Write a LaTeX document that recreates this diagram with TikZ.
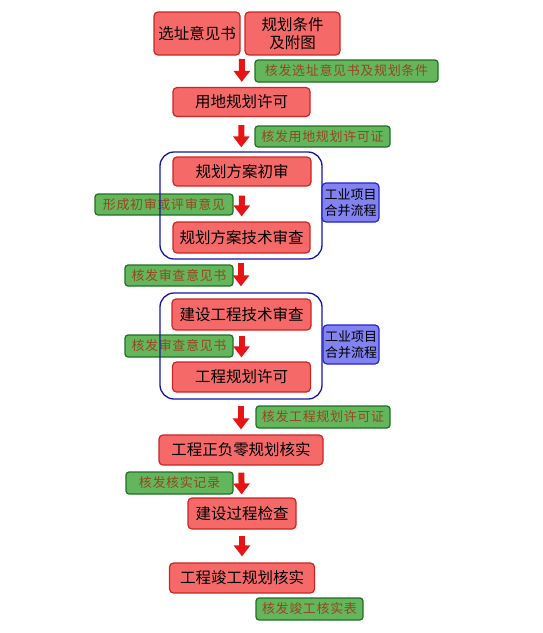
\documentclass[tikz,border=0pt]{standalone}
\usepackage{fontspec}
\usepackage{tikz}
\usetikzlibrary{arrows.meta, positioning}
\newfontfamily\cjk{Noto Sans CJK SC}
\newfontfamily\notefont[LetterSpace=5]{Noto Sans CJK SC}
\definecolor{boxred}{RGB}{245, 105, 105}
\definecolor{edgered}{RGB}{205, 35, 35}
\definecolor{boxgreen}{RGB}{100, 182, 92}
\definecolor{edgegreen}{RGB}{30, 110, 35}
\definecolor{notetext}{RGB}{150, 70, 30}
\definecolor{boxblue}{RGB}{130, 130, 240}
\definecolor{edgeblue}{RGB}{35, 35, 210}
\definecolor{groupblue}{RGB}{20, 20, 170}
\definecolor{arrowred}{RGB}{230, 20, 20}

\begin{document}
\begin{tikzpicture}[x=1pt, y=-1pt,
    redbox/.style={fill=boxred, draw=edgered, line width=1.2pt, rounded corners=4pt,
          inner sep=0pt, align=center, font=\cjk\fontsize{15.5}{18}\selectfont},
    greenbox/.style={fill=boxgreen, draw=edgegreen, line width=1.2pt, rounded corners=3pt,
          inner sep=0pt, text=notetext, font=\notefont\fontsize{13}{15}\selectfont},
    groupbox/.style={draw=groupblue, line width=1.3pt, rounded corners=14pt, inner sep=0pt},
    notebox/.style={fill=boxblue, draw=edgeblue, line width=1.2pt, rounded corners=4pt,
          inner sep=0pt, align=center, font=\cjk\fontsize{13}{16}\selectfont},
    flowarrow/.style={draw=arrowred, line width=6pt, -{Triangle[width=16pt, length=11pt]}}]
    \useasboundingbox (0,0) rectangle (543,633);

    % main steps
    \node[redbox, minimum width=86pt, minimum height=43pt] (site) at (197,33.5) {选址意见书};
    \node[redbox, minimum width=95pt, minimum height=43pt] (cond) at (292.5,33.5) {规划条件\\及附图};
    \coordinate (pair) at (242,55);
    \node[redbox, minimum width=137pt, minimum height=29pt] (landuse) at (241.5,102) {用地规划许可};
    \node[redbox, minimum width=138pt, minimum height=29pt] (prelim) at (242,171.5) {规划方案初审};
    \node[redbox, minimum width=137pt, minimum height=31pt] (techrev) at (241.5,237.5) {规划方案技术审查};
    \node[redbox, minimum width=139pt, minimum height=31pt] (consrev) at (241.5,314.5) {建设工程技术审查};
    \node[redbox, minimum width=138pt, minimum height=30pt] (permit) at (241.5,377) {工程规划许可};
    \node[redbox, minimum width=164pt, minimum height=30pt] (zero) at (241,450) {工程正负零规划核实};
    \node[redbox, minimum width=108pt, minimum height=31pt] (inspect) at (242,513.5) {建设过程检查};
    \node[redbox, minimum width=145pt, minimum height=30pt] (final) at (242,578) {工程竣工规划核实};

    % issued documents
    \node[greenbox, minimum width=183pt, minimum height=22pt] (issue1) at (346.5,71) {核发选址意见书及规划条件};
    \node[greenbox, minimum width=135pt, minimum height=21pt] (issue2) at (322.5,136.5) {核发用地规划许可证};
    \node[greenbox, minimum width=138pt, minimum height=21pt] (issue3) at (164,204.5) {形成初审或评审意见};
    \node[greenbox, minimum width=108pt, minimum height=21pt] (issue4) at (179,275.5) {核发审查意见书};
    \node[greenbox, minimum width=108pt, minimum height=22pt] (issue5) at (179,346) {核发审查意见书};
    \node[greenbox, minimum width=134pt, minimum height=22pt] (issue6) at (323,417) {核发工程规划许可证};
    \node[greenbox, minimum width=107pt, minimum height=22pt] (issue7) at (179.5,483) {核发核实记录};
    \node[greenbox, minimum width=107pt, minimum height=22pt] (issue8) at (309.5,609) {核发竣工核实表};

    % merged procedure for industrial projects
    \node[groupbox, minimum width=162pt, minimum height=107pt] (merge1) at (241,205.5) {};
    \node[groupbox, minimum width=162pt, minimum height=106pt] (merge2) at (241,346) {};
    \node[notebox, minimum width=57pt, minimum height=39pt] (note1) at (350.5,202.5) {工业项目\\合并流程};
    \node[notebox, minimum width=56pt, minimum height=39pt] (note2) at (351,344.5) {工业项目\\合并流程};

    \draw[flowarrow, shorten <=4pt, shorten >=5pt] (pair) -- (landuse);
    \draw[flowarrow, shorten <=8pt, shorten >=4pt] (landuse) -- (merge1);
    \draw[flowarrow, shorten <=9pt, shorten >=5pt] (prelim) -- (techrev);
    \draw[flowarrow, shorten <=3pt, shorten >=6pt] (merge1) -- (merge2);
    \draw[flowarrow, shorten <=5pt, shorten >=4pt] (consrev) -- (permit);
    \draw[flowarrow, shorten <=6pt, shorten >=5pt] (merge2) -- (zero);
    \draw[flowarrow, shorten <=7pt, shorten >=3pt] (zero) -- (inspect);
    \draw[flowarrow, shorten <=6pt, shorten >=6pt] (inspect) -- (final);
\end{tikzpicture}
\end{document}
